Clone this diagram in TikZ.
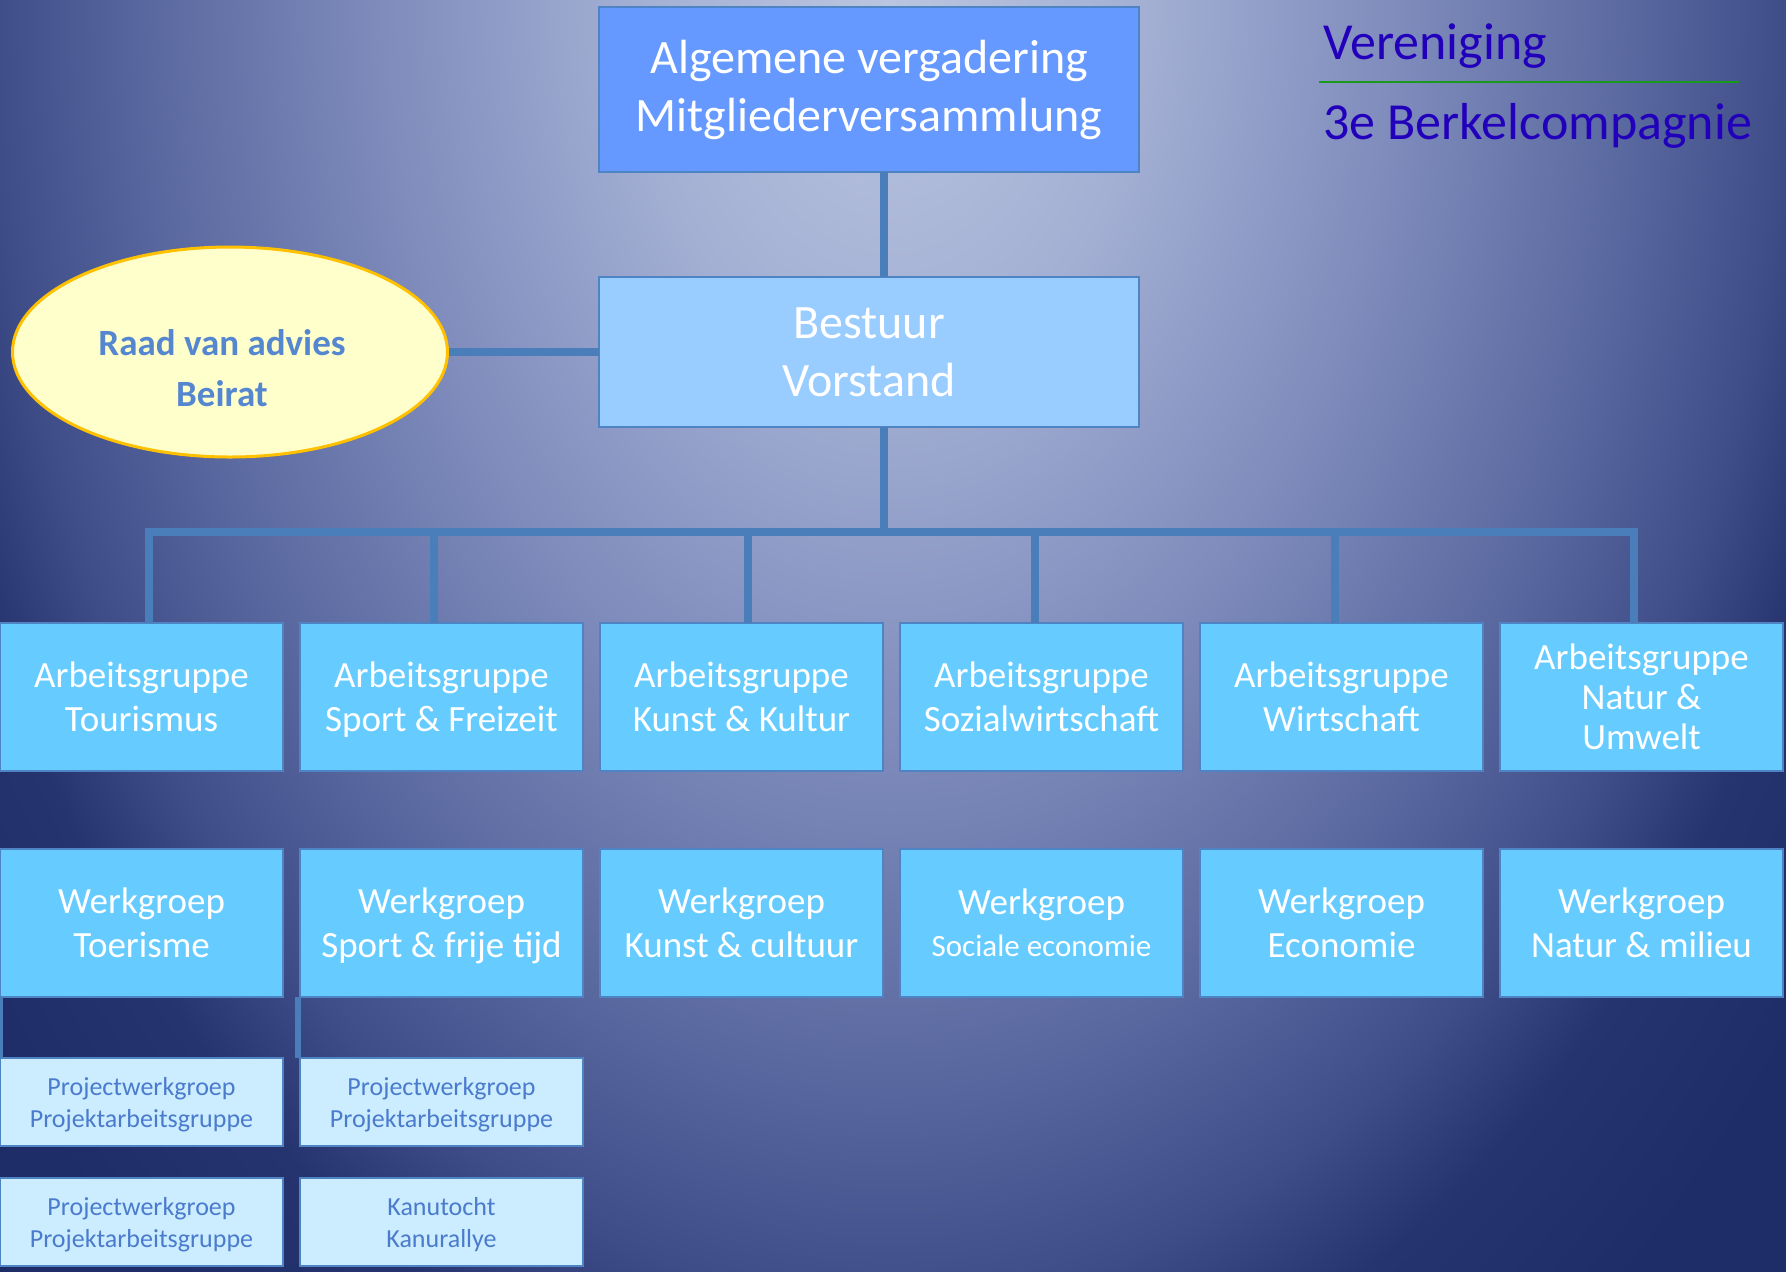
\documentclass[tikz,border=0pt]{standalone}
\usepackage{fontspec}
\setmainfont{Carlito}
\usetikzlibrary{positioning, shapes.geometric}

\definecolor{linkblue}{HTML}{4A7EBB}
\definecolor{boxedge}{HTML}{4F84C4}
\definecolor{alvfill}{HTML}{6699FF}
\definecolor{boardfill}{HTML}{99CCFF}
\definecolor{groupfill}{HTML}{66CCFF}
\definecolor{projfill}{HTML}{CCECFF}
\definecolor{projtext}{HTML}{4A7BCC}
\definecolor{advfill}{HTML}{FFFFCC}
\definecolor{advedge}{HTML}{FFC000}
\definecolor{advtext}{HTML}{5587D0}
\definecolor{titleblue}{HTML}{2200BB}
\definecolor{rulegreen}{HTML}{1A9A1A}
% background glow
\definecolor{bg0}{HTML}{BAC5E0}
\definecolor{bg1}{HTML}{A5B1D4}
\definecolor{bg2}{HTML}{808DBD}
\definecolor{bg3}{HTML}{59689F}
\definecolor{bg4}{HTML}{3E4D88}
\definecolor{bg5}{HTML}{25346F}
\definecolor{bgdark}{HTML}{1E2C68}
\pgfdeclareradialshading{bgglow}{\pgfpoint{0bp}{0bp}}{color(0bp)=(bg0); color(3.75bp)=(bg1); color(7.8bp)=(bg2); color(11.6bp)=(bg3); color(14bp)=(bg4); color(15.6bp)=(bg5); color(18bp)=(bgdark); color(50bp)=(bgdark)}

\begin{document}
\begin{tikzpicture}[
      x=0.5pt, y=-0.5pt,
      node distance=8.5pt and 8.5pt,
      box/.style={
        draw=boxedge, line width=1.2pt, outer sep=0pt, inner sep=2pt,
        align=center, text=white
      },
      alvbox/.style={box, fill=alvfill, minimum width=270pt,
        minimum height=82.5pt, font=\fontsize{24}{29}\selectfont},
      boardbox/.style={box, fill=boardfill, minimum width=270pt,
        minimum height=75pt, font=\fontsize{24}{29}\selectfont},
      groupbox/.style={box, fill=groupfill, minimum width=141.5pt,
        minimum height=74pt, text depth=0pt, font=\fontsize{18.5}{22}\selectfont},
      projbox/.style={box, fill=projfill, text=projtext, minimum width=141.5pt,
        minimum height=44pt, text depth=0pt, font=\fontsize{13}{16}\selectfont},
      advies/.style={
        ellipse, draw=advedge, line width=1.5pt, fill=advfill,
        minimum width=217.5pt, minimum height=105pt
      },
      advieslabel/.style={align=center, text=advtext,
        font=\bfseries\fontsize{18.5}{25.5}\selectfont},
      link/.style={draw=linkblue, line width=4pt},
      title/.style={anchor=base west, inner sep=0pt, text=titleblue,
        font=\fontsize{26}{30}\selectfont}
    ]
    \useasboundingbox (0,0) rectangle (1786,1271);
    \begin{scope}
      \clip (0,0) rectangle (1786,1271);
      \fill[bgdark] (0,0) rectangle (1786,1271);
      \shade[shading=bgglow] (890,0) ellipse [x radius=800pt, y radius=1160pt];
    \end{scope}

    \node[alvbox] (alv) at (869,89.5) {Algemene vergadering\\Mitgliederversammlung};
    \node[boardbox, below=52.5pt of alv] (bestuur) {Bestuur\\Vorstand};
    \node[advies, left=75pt of bestuur] (raad) {};
    \node[advieslabel] (raadtext) at ([xshift=-4pt, yshift=-8pt]raad.center)
        {Raad van advies\\Beirat};

    \node[groupbox] (ag1) at (141.5,697) {Arbeitsgruppe\\Tourismus};
    \node[groupbox, right=of ag1] (ag2) {Arbeitsgruppe\\Sport \& Freizeit};
    \node[groupbox, right=of ag2] (ag3) {Arbeitsgruppe\\Kunst \& Kultur};
    \node[groupbox, right=of ag3] (ag4) {Arbeitsgruppe\\Sozialwirtschaft};
    \node[groupbox, right=of ag4] (ag5) {Arbeitsgruppe\\Wirtschaft};
    \node[groupbox, right=of ag5, font=\fontsize{18.5}{20}\selectfont] (ag6)
        {Arbeitsgruppe\\Natur \&\\Umwelt};

    \node[groupbox, below=39pt of ag1] (wg1) {Werkgroep\\Toerisme};
    \node[groupbox, right=of wg1] (wg2) {Werkgroep\\Sport \& frije tijd};
    \node[groupbox, right=of wg2] (wg3) {Werkgroep\\Kunst \& cultuur};
    \node[groupbox, right=of wg3] (wg4)
        {Werkgroep\\[-1pt]\fontsize{15.5}{18}\selectfont Sociale economie};
    \node[groupbox, right=of wg4] (wg5) {Werkgroep\\Economie};
    \node[groupbox, right=of wg5] (wg6) {Werkgroep\\Natur \& milieu};

    \node[projbox, below=30.5pt of wg1] (pw1) {Projectwerkgroep\\Projektarbeitsgruppe};
    \node[projbox, right=of pw1] (pw2) {Projectwerkgroep\\Projektarbeitsgruppe};
    \node[projbox, below=16pt of pw1] (pw3) {Projectwerkgroep\\Projektarbeitsgruppe};
    \node[projbox, right=of pw3] (kanu) {Kanutocht\\Kanurallye};

    \node[title] (vereniging) at (1323,59) {Vereniging};
    \node[title] (compagnie) at (1323,139) {3e Berkelcompagnie};
    \coordinate (rulel) at (1319,82);
    \coordinate (ruler) at (1739,82);
    \draw[rulegreen, line width=1.2pt] (rulel) -- (ruler);

    % connectors
    \coordinate (busy) at (0,532);
    \draw[link] ([xshift=7.5pt]alv.south) -- ([xshift=7.5pt]bestuur.north);
    \draw[link] (raad) -- (bestuur);
    \draw[link] ([xshift=7.5pt]bestuur.south) -- ([xshift=7.5pt]bestuur.south |- busy);
    \draw[link] ([xshift=3.75pt]ag1.north) |- ([xshift=-3.75pt]ag6.north |- busy)
        -- ([xshift=-3.75pt]ag6.north);
    \draw[link] ([xshift=-3.75pt]ag2.north) -- ([xshift=-3.75pt]ag2.north |- busy);
    \draw[link] ([xshift=3.25pt]ag3.north) -- ([xshift=3.25pt]ag3.north |- busy);
    \draw[link] ([xshift=-3.5pt]ag4.north) -- ([xshift=-3.5pt]ag4.north |- busy);
    \draw[link] ([xshift=-3.5pt]ag5.north) -- ([xshift=-3.5pt]ag5.north |- busy);
    \draw[link, line width=1.5pt] ([xshift=0.75pt]wg1.south west)
        -- ([xshift=0.75pt]pw1.north west);
    \draw[link, line width=3pt] ([xshift=-1pt]wg2.south west)
        -- ([xshift=-1pt]pw2.north west);
  \end{tikzpicture}
\end{document}
